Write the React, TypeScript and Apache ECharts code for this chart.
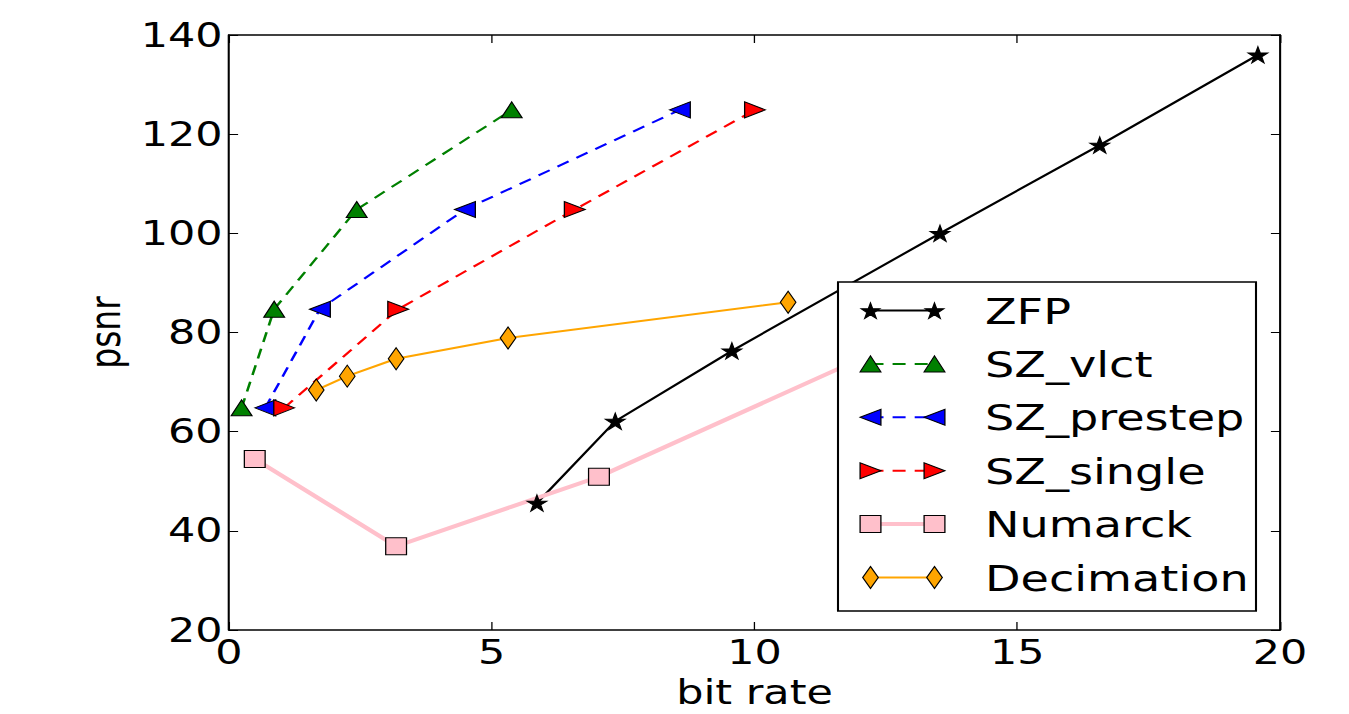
import React, { useEffect, useRef } from "react";
import * as echarts from "echarts";

// horizontal stretch of the original figure
const BASE_W = 1038;
const S = 1349 / BASE_W;

const xTicks = { min: 0, max: 20, interval: 5 };
const yTicks = { min: 20, max: 140, interval: 20 };

const seriesNames = ["ZFP", "SZ_vlct", "SZ_prestep", "SZ_single", "Numarck", "Decimation"];

const zfpX = [5.86, 7.35, 9.57, 13.53, 16.57, 19.58];
const zfpY = [45.6, 62.1, 76.3, 100.0, 117.8, 136.0];

const vlctX = [0.24, 0.86, 2.43, 5.38];
const vlctY = [64.8, 84.7, 104.8, 124.9];

const prestepX = [0.69, 1.73, 4.49, 8.58];
const prestepY = [64.8, 84.7, 104.8, 124.9];

const singleX = [1.05, 3.22, 6.58, 10.01];
const singleY = [64.8, 84.7, 104.8, 124.9];

const numarckX = [0.49, 3.18, 7.04, 12.5];
const numarckY = [54.5, 36.9, 50.9, 77.0];

const decimX = [1.66, 2.25, 3.18, 5.31, 10.64];
const decimY = [68.4, 71.2, 74.7, 78.9, 86.1];

const FONT = '"DejaVu Sans", "Liberation Sans", sans-serif';

const STAR = "path://M50,0L61.2,34.5L97.6,34.5L68.2,55.9L79.4,90.5L50,69.1L20.6,90.5L31.8,55.9L2.4,34.5L38.8,34.5Z";
const TRI_UP = "path://M50,0L100,100L0,100Z";
const TRI_LEFT = "path://M0,50L100,0L100,100Z";
const TRI_RIGHT = "path://M100,50L0,0L0,100Z";
const DASH = [10, 7];

const zip = (xs: number[], ys: number[]) => xs.map((x, i) => [x, ys[i]]);

function makeSeries(
  name: string, xs: number[], ys: number[], color: string, lineWidth: number,
  dashed: boolean, symbol: string, symbolSize: number | number[]
) {
  return {
    name,
    type: "line",
    data: zip(xs, ys),
    xAxisIndex: 0,
    yAxisIndex: 0,
    symbol,
    symbolSize,
    showAllSymbol: true,
    z: 2,
    lineStyle: { color, width: lineWidth, type: dashed ? DASH : "solid" },
    itemStyle: { color, borderColor: "#000", borderWidth: 1, opacity: 1 },
    emphasis: { disabled: true },
  };
}

// legend glyph helpers (legend box decoration, not data marks)
function starPts(cx: number, cy: number, w: number, h: number) {
  const pts: number[][] = [];
  for (let k = 0; k < 10; k++) {
    const a = (90 + k * 36) * Math.PI / 180;
    const r = k % 2 === 0 ? 1 : 0.382;
    pts.push([cx + (r * Math.cos(a) * w) / 2, cy - (r * Math.sin(a) * h) / 2]);
  }
  return pts;
}
function glyph(kind: string, cx: number, cy: number, fill: string) {
  const style = { fill, stroke: "#000", lineWidth: 1 };
  if (kind === "star") return { type: "polygon", shape: { points: starPts(cx, cy + 1, 15, 17) }, style: { fill: "#000", stroke: "#000", lineWidth: 1 } };
  if (kind === "up") return { type: "polygon", shape: { points: [[cx, cy - 8], [cx + 8, cy + 8], [cx - 8, cy + 8]] }, style };
  if (kind === "left") return { type: "polygon", shape: { points: [[cx - 8, cy], [cx + 8, cy - 8], [cx + 8, cy + 8]] }, style };
  if (kind === "right") return { type: "polygon", shape: { points: [[cx + 8, cy], [cx - 8, cy - 8], [cx - 8, cy + 8]] }, style };
  if (kind === "square") return { type: "rect", shape: { x: cx - 8, y: cy - 8.5, width: 16, height: 17 }, style };
  return { type: "polygon", shape: { points: [[cx, cy - 11], [cx + 6, cy], [cx, cy + 11], [cx - 6, cy]] }, style };
}

const legendKinds = ["star", "up", "left", "right", "square", "diamond"];
const legendColors = ["#000000", "#008000", "#0000ff", "#ff0000", "#ffc0cb", "#ffa500"];
const legendWidths = [2, 2, 2, 2, 4, 2];
const legendDashed = [false, true, true, true, false, false];

function buildLegend() {
  const left = 838 / S, right = 1256 / S, top = 282, bottom = 611;
  const els: any[] = [
    { type: "rect", z: 100, shape: { x: left, y: top, width: right - left, height: bottom - top }, style: { fill: "#fff", stroke: "#000", lineWidth: 1.6 } },
  ];
  const mx1 = 870.5 / S, mx2 = 934.5 / S, tx = 985 / S;
  seriesNames.forEach((name, i) => {
    const cy = 310.5 + i * 53.4;
    els.push({
      type: "line",
      z: 101,
      shape: { x1: mx1, y1: cy, x2: mx2, y2: cy },
      style: { stroke: legendColors[i], lineWidth: legendWidths[i], lineDash: legendDashed[i] ? DASH : null },
    });
    els.push({ ...glyph(legendKinds[i], mx1, cy, legendColors[i]), z: 102 });
    els.push({ ...glyph(legendKinds[i], mx2, cy, legendColors[i]), z: 102 });
    els.push({
      type: "text",
      z: 102,
      x: tx,
      y: cy + 1,
      style: { text: name, fontSize: 35.5, fontFamily: FONT, fill: "#000", verticalAlign: "middle", align: "left" },
    });
  });
  return els;
}

const axisCommon = {
  type: "value",
  splitLine: { show: false },
  axisLine: { show: true, onZero: false, lineStyle: { color: "#000", width: 1.6 } },
  axisTick: { show: true, inside: true, length: 8, lineStyle: { color: "#000", width: 1 } },
};

export default function App() {
  const ref = useRef<HTMLDivElement>(null);
  useEffect(() => {
    const chart = echarts.init(ref.current!, null, { renderer: "svg" });
    chart.setOption({
      animation: false,
      backgroundColor: "#fff",
      grid: { left: 229 / S, right: BASE_W - 1280 / S, top: 35, bottom: 84, containLabel: false },
      xAxis: [
        {
          ...axisCommon,
          ...xTicks,
          position: "bottom",
          name: "bit rate",
          nameLocation: "middle",
          nameGap: 46,
          nameTextStyle: { fontSize: 33, fontFamily: FONT, color: "#000" },
          axisLabel: { fontSize: 33, fontFamily: FONT, color: "#000", margin: 6 },
        },
        { ...axisCommon, ...xTicks, position: "top", axisLabel: { show: false } },
      ],
      yAxis: [
        {
          ...axisCommon,
          ...yTicks,
          position: "left",
          name: "psnr",
          nameLocation: "middle",
          nameRotate: 90,
          nameGap: 76,
          nameTextStyle: { fontSize: 33, fontFamily: FONT, color: "#000" },
          axisTick: { ...axisCommon.axisTick, length: 7 },
          axisLabel: { fontSize: 33, fontFamily: FONT, color: "#000", margin: 5 },
        },
        { ...axisCommon, ...yTicks, position: "right", axisLabel: { show: false }, axisTick: { ...axisCommon.axisTick, length: 7 } },
      ],
      series: [
        makeSeries(seriesNames[0], zfpX, zfpY, "#000000", 2, false, STAR, [15, 16]),
        makeSeries(seriesNames[1], vlctX, vlctY, "#008000", 2, true, TRI_UP, [16, 16]),
        makeSeries(seriesNames[2], prestepX, prestepY, "#0000ff", 2, true, TRI_LEFT, [16, 16]),
        makeSeries(seriesNames[3], singleX, singleY, "#ff0000", 2, true, TRI_RIGHT, [16, 16]),
        makeSeries(seriesNames[4], numarckX, numarckY, "#ffc0cb", 4, false, "rect", [16, 17]),
        makeSeries(seriesNames[5], decimX, decimY, "#ffa500", 2, false, "diamond", [12, 22]),
      ],
      graphic: { elements: buildLegend() },
    });
    return () => chart.dispose();
  }, []);
  return (
    <div style={{ position: "absolute", left: 0, top: 0, width: 1349, height: 714, overflow: "hidden", background: "#fff" }}>
      <div ref={ref} style={{ width: BASE_W, height: 714, transform: `scaleX(${S})`, transformOrigin: "0 0" }} />
    </div>
  );
}
